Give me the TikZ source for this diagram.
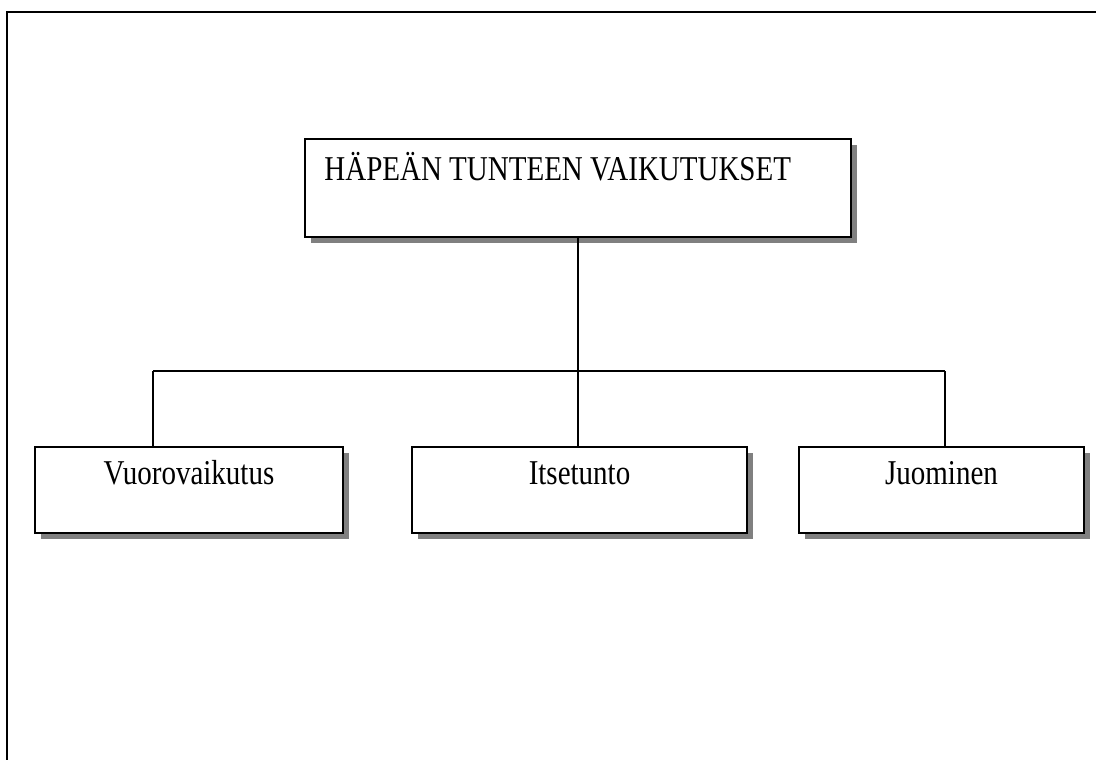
\documentclass[tikz,border=0pt]{standalone}
\usepackage{fontspec}
\setmainfont{Liberation Serif}
\usetikzlibrary{shadows,calc}
\tikzset{
  box/.style={draw=black, line width=1.6pt, fill=white, rectangle, inner sep=0pt,
    drop shadow={shadow xshift=6pt, shadow yshift=-6pt, fill=black!50, opacity=1}},
  conn/.style={draw=black, line width=1.5pt},
  frame/.style={draw=black, line width=2.2pt},
  lbl/.style={font=\fontsize{29}{34}\selectfont, inner sep=0pt}
}
\newcommand{\tall}[1]{\scalebox{1}[1.2]{#1}}
\begin{document}
\begin{tikzpicture}[x=1pt,y=1pt]
\useasboundingbox (0,0) rectangle (1096,-760);
\fill[white] (0,0) rectangle (1096,-760);
% outer frame (top and left)
\coordinate (fTL) at (7,-12);
\coordinate (fTR) at (1096,-12);
\coordinate (fBL) at (7,-760);
\draw[frame] (fTR) -- (fTL) -- (fBL);
% boxes
\node[box, minimum width=546pt, minimum height=98pt] (top) at (578,-188) {};
\node[box, minimum width=308pt, minimum height=86pt] (b1) at (189,-490) {};
\node[box, minimum width=335pt, minimum height=86pt] (b2) at (579.5,-490) {};
\node[box, minimum width=285pt, minimum height=86pt] (b3) at (941.5,-490) {};
% texts
\node[lbl, anchor=base west] (ttop) at ($(top.north west)+(20,-42)$) {\tall{HÄPEÄN TUNTEEN VAIKUTUKSET}};
\node[lbl, anchor=base] (t1) at ($(b1.north)+(0,-38)$) {\tall{Vuorovaikutus}};
\node[lbl, anchor=base] (t2) at ($(b2.north)+(0,-38)$) {\tall{Itsetunto}};
\node[lbl, anchor=base] (t3) at ($(b3.north)+(0,-38)$) {\tall{Juominen}};
% connectors
\coordinate (h1) at (153,-371);
\coordinate (h3) at (945,-371);
\draw[conn] (top.south) -- (top.south |- h1);
\draw[conn] (h1) -- (h3);
\draw[conn] (h1) -- (h1 |- b1.north);
\draw[conn] (top.south |- h1) -- (top.south |- b2.north);
\draw[conn] (h3) -- (h3 |- b3.north);
\end{tikzpicture}
\end{document}
